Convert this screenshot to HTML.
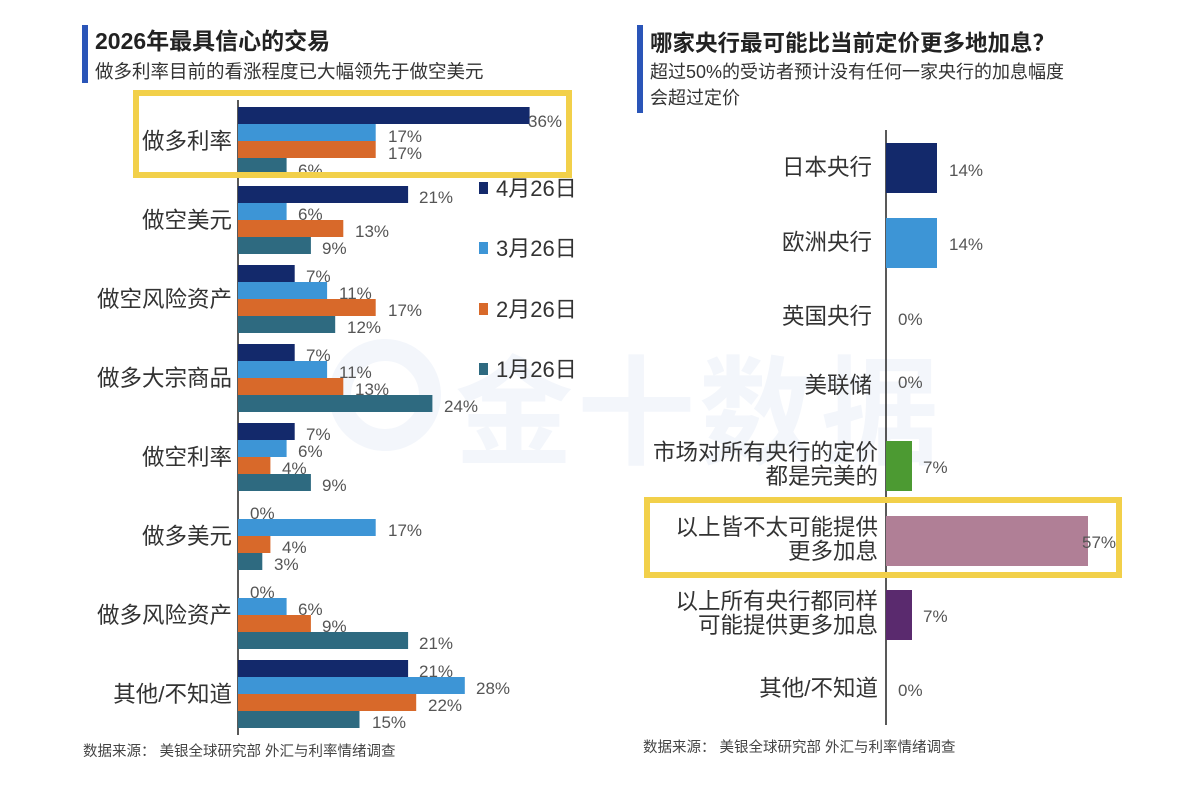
<!DOCTYPE html>
<html><head><meta charset="utf-8">
<style>
html,body{margin:0;padding:0;background:#fff;}
svg{display:block;}
.cjk{font-family:"Liberation Sans","Noto Sans CJK SC",sans-serif;}
.v{font-family:"Liberation Sans Narrow","Liberation Sans",sans-serif;font-size:17px;fill:#555;}
.lab{font-family:"Liberation Sans","Noto Sans CJK SC",sans-serif;font-size:22.5px;fill:#333;text-anchor:end;}
.leg{font-family:"Liberation Sans","Noto Sans CJK SC",sans-serif;font-size:22px;fill:#333;}
</style></head>
<body>
<svg width="1200" height="800" viewBox="0 0 1200 800" xmlns="http://www.w3.org/2000/svg">
<rect width="1200" height="800" fill="#fff"/>
<!-- watermark -->
<text x="455" y="455" font-family="Liberation Sans,Noto Sans CJK SC,sans-serif" font-size="118" font-weight="bold" fill="#f3f6fb" letter-spacing="4">金十数据</text>
<circle cx="385" cy="395" r="45" fill="none" stroke="#f3f6fb" stroke-width="22"/>

<!-- Left titles -->
<rect x="82" y="25" width="6" height="58" fill="#2a55b8"/>
<text x="95" y="49" class="cjk" font-size="23" font-weight="bold" fill="#222">2026年最具信心的交易</text>
<text x="95" y="78" class="cjk" font-size="18.5" fill="#333">做多利率目前的看涨程度已大幅领先于做空美元</text>

<!-- Left axis -->
<line x1="238" y1="100" x2="238" y2="735" stroke="#222" stroke-width="1.5"/>

<!-- group 1 -->
<rect x="238" y="107" width="291.6" height="17" fill="#13296b"/>
<rect x="238" y="124" width="137.7" height="17" fill="#3d95d6"/>
<rect x="238" y="141" width="137.7" height="17" fill="#d8692a"/>
<rect x="238" y="158" width="48.6" height="17" fill="#2e6a80"/>
<text class="v" x="528" y="127">36%</text><text class="v" x="388" y="142">17%</text><text class="v" x="388" y="159">17%</text><text class="v" x="298" y="176">6%</text>
<text class="lab" x="232" y="149">做多利率</text>
<!-- group 2 -->
<rect x="238" y="186" width="170.1" height="17" fill="#13296b"/>
<rect x="238" y="203" width="48.6" height="17" fill="#3d95d6"/>
<rect x="238" y="220" width="105.3" height="17" fill="#d8692a"/>
<rect x="238" y="237" width="72.9" height="17" fill="#2e6a80"/>
<text class="v" x="419" y="203">21%</text><text class="v" x="298" y="220">6%</text><text class="v" x="355" y="237">13%</text><text class="v" x="322" y="254">9%</text>
<text class="lab" x="232" y="228">做空美元</text>
<!-- group 3 -->
<rect x="238" y="265" width="56.7" height="17" fill="#13296b"/>
<rect x="238" y="282" width="89.1" height="17" fill="#3d95d6"/>
<rect x="238" y="299" width="137.7" height="17" fill="#d8692a"/>
<rect x="238" y="316" width="97.2" height="17" fill="#2e6a80"/>
<text class="v" x="306" y="282">7%</text><text class="v" x="339" y="299">11%</text><text class="v" x="388" y="316">17%</text><text class="v" x="347" y="333">12%</text>
<text class="lab" x="232" y="307">做空风险资产</text>
<!-- group 4 -->
<rect x="238" y="344" width="56.7" height="17" fill="#13296b"/>
<rect x="238" y="361" width="89.1" height="17" fill="#3d95d6"/>
<rect x="238" y="378" width="105.3" height="17" fill="#d8692a"/>
<rect x="238" y="395" width="194.4" height="17" fill="#2e6a80"/>
<text class="v" x="306" y="361">7%</text><text class="v" x="339" y="378">11%</text><text class="v" x="355" y="395">13%</text><text class="v" x="444" y="412">24%</text>
<text class="lab" x="232" y="386">做多大宗商品</text>
<!-- group 5 -->
<rect x="238" y="423" width="56.7" height="17" fill="#13296b"/>
<rect x="238" y="440" width="48.6" height="17" fill="#3d95d6"/>
<rect x="238" y="457" width="32.4" height="17" fill="#d8692a"/>
<rect x="238" y="474" width="72.9" height="17" fill="#2e6a80"/>
<text class="v" x="306" y="440">7%</text><text class="v" x="298" y="457">6%</text><text class="v" x="282" y="474">4%</text><text class="v" x="322" y="491">9%</text>
<text class="lab" x="232" y="465">做空利率</text>
<!-- group 6 -->
<rect x="238" y="519" width="137.7" height="17" fill="#3d95d6"/>
<rect x="238" y="536" width="32.4" height="17" fill="#d8692a"/>
<rect x="238" y="553" width="24.3" height="17" fill="#2e6a80"/>
<text class="v" x="250" y="519">0%</text><text class="v" x="388" y="536">17%</text><text class="v" x="282" y="553">4%</text><text class="v" x="274" y="570">3%</text>
<text class="lab" x="232" y="544">做多美元</text>
<!-- group 7 -->
<rect x="238" y="598" width="48.6" height="17" fill="#3d95d6"/>
<rect x="238" y="615" width="72.9" height="17" fill="#d8692a"/>
<rect x="238" y="632" width="170.1" height="17" fill="#2e6a80"/>
<text class="v" x="250" y="598">0%</text><text class="v" x="298" y="615">6%</text><text class="v" x="322" y="632">9%</text><text class="v" x="419" y="649">21%</text>
<text class="lab" x="232" y="623">做多风险资产</text>
<!-- group 8 -->
<rect x="238" y="660" width="170.1" height="17" fill="#13296b"/>
<rect x="238" y="677" width="226.8" height="17" fill="#3d95d6"/>
<rect x="238" y="694" width="178.2" height="17" fill="#d8692a"/>
<rect x="238" y="711" width="121.5" height="17" fill="#2e6a80"/>
<text class="v" x="419" y="677">21%</text><text class="v" x="476" y="694">28%</text><text class="v" x="428" y="711">22%</text><text class="v" x="372" y="728">15%</text>
<text class="lab" x="232" y="702">其他/不知道</text>

<!-- yellow box left -->
<rect x="136" y="93" width="433" height="82" fill="none" stroke="#f2d04a" stroke-width="6"/>

<!-- legend -->
<rect x="479" y="182" width="9" height="12" fill="#13296b"/><text class="leg" x="496" y="196">4月26日</text>
<rect x="479" y="242" width="9" height="12" fill="#3d95d6"/><text class="leg" x="496" y="256">3月26日</text>
<rect x="479" y="303" width="9" height="12" fill="#d8692a"/><text class="leg" x="496" y="317">2月26日</text>
<rect x="479" y="363" width="9" height="12" fill="#2e6a80"/><text class="leg" x="496" y="377">1月26日</text>

<text x="83" y="756" class="cjk" font-size="14.5" fill="#444">数据来源：  美银全球研究部 外汇与利率情绪调查</text>

<!-- Right titles -->
<rect x="637" y="25" width="6" height="88" fill="#2a55b8"/>
<text x="650" y="51" class="cjk" font-size="22.5" font-weight="bold" fill="#222">哪家央行最可能比当前定价更多地加息？</text>
<text x="650" y="78" class="cjk" font-size="18" fill="#333">超过50%的受访者预计没有任何一家央行的加息幅度</text>
<text x="650" y="104" class="cjk" font-size="18" fill="#333">会超过定价</text>

<line x1="886" y1="130" x2="886" y2="725" stroke="#222" stroke-width="1.5"/>

<rect x="886" y="143" width="51" height="50" fill="#13296b"/>
<rect x="886" y="218" width="51" height="50" fill="#3d95d6"/>
<rect x="886" y="441" width="26" height="50" fill="#4c9a32"/>
<rect x="886" y="516" width="202" height="50" fill="#b07f96"/>
<rect x="886" y="590" width="26" height="50" fill="#5a2a6e"/>

<text class="v" x="949" y="176">14%</text>
<text class="v" x="949" y="250">14%</text>
<text class="v" x="898" y="325">0%</text>
<text class="v" x="898" y="388">0%</text>
<text class="v" x="923" y="473">7%</text>
<text class="v" x="1082" y="548">57%</text>
<text class="v" x="923" y="622">7%</text>
<text class="v" x="898" y="696">0%</text>

<text class="lab" x="872" y="175">日本央行</text>
<text class="lab" x="872" y="250">欧洲央行</text>
<text class="lab" x="872" y="324">英国央行</text>
<text class="lab" x="872" y="393">美联储</text>
<text class="lab" x="878" y="460">市场对所有央行的定价</text>
<text class="lab" x="878" y="484">都是完美的</text>
<text class="lab" x="878" y="535">以上皆不太可能提供</text>
<text class="lab" x="878" y="559">更多加息</text>
<text class="lab" x="878" y="609">以上所有央行都同样</text>
<text class="lab" x="878" y="633">可能提供更多加息</text>
<text class="lab" x="878" y="696">其他/不知道</text>

<rect x="647" y="500" width="472" height="75" fill="none" stroke="#f2d04a" stroke-width="6"/>

<text x="643" y="752" class="cjk" font-size="14.5" fill="#444">数据来源：  美银全球研究部 外汇与利率情绪调查</text>
</svg>
</body></html>
